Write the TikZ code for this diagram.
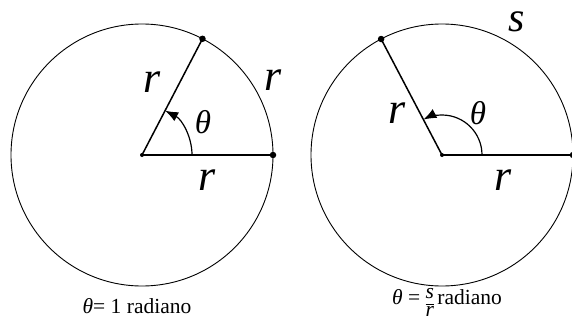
\documentclass[tikz,border=0pt]{standalone}
\usepackage{fontspec}
\setmainfont{Liberation Serif}
\usetikzlibrary{arrows.meta}
\begin{document}
\begin{tikzpicture}[x=1pt,y=1pt]
\tikzstyle{nod}= [circle, inner sep=0pt, fill=black, minimum size=6.5pt]
\tikzstyle{cen}= [circle, inner sep=0pt, fill=black, minimum size=4pt]
\tikzstyle{lab}= [font=\fontsize{44}{44}\selectfont\itshape]
\tikzstyle{ang}= [font=\fontsize{33}{33}\selectfont\itshape]
\tikzstyle{capt}= [font=\fontsize{21.5}{21.5}\selectfont]
\tikzstyle{angarrow}= [-{Latex[length=13pt,width=10pt]}, line width=1.2pt]
\useasboundingbox (0,0) rectangle (572,322);
%1
\def\r{142};
\node[cen] (o1) at (\r,167) {};
\node[nod] (a1) at ([shift={(62.5:131)}]o1.center) {};
\node[nod] (b1) at ([shift={(0:131)}]o1.center) {};
\draw[line width=0.9pt] (o1.center) circle[radius=131pt];
\draw[line width=1.5pt] (o1.center) -- (a1.center);
\draw[line width=1.5pt] (o1.center) -- (b1.center);
\draw[angarrow] ([shift={(0:50)}]o1.center) arc[start angle=0, end angle=62.5, radius=50pt];
\node[lab] (ra1) at (152,240) {r};
\node[lab] (rb1) at (273,242) {r};
\node[ang] (t1) at (203,200) {θ};
\node[lab] (rc1) at (207,142) {r};
\node[capt] (c1) at (137,16) {\textit{θ}= 1 radiano};
%2
\def\r{442};
\node[cen] (o2) at (\r,167) {};
\node[nod] (a2) at ([shift={(117.7:131)}]o2.center) {};
\node[nod] (b2) at ([shift={(0:131)}]o2.center) {};
\draw[line width=0.9pt] (o2.center) circle[radius=131pt];
\draw[line width=1.5pt] (o2.center) -- (a2.center);
\draw[line width=1.5pt] (o2.center) -- (b2.center);
\draw[angarrow] ([shift={(0:40)}]o2.center) arc[start angle=0, end angle=117.7, radius=40pt];
\node[lab, font=\fontsize{42}{42}\selectfont\itshape] (s2) at (517,300) {s};
\node[lab] (ra2) at (397,209) {r};
\node[ang] (t2) at (478,209) {θ};
\node[lab] (rc2) at (503,142) {r};
\node[capt, anchor=base] (c2) at (447,18) {\textit{θ} = \raisebox{-5pt}{\renewcommand\arraystretch{0.85}\begin{tabular}[c]{@{}c@{}}\itshape s\\\hline\itshape r\end{tabular}}\,radiano};
\end{tikzpicture}
\end{document}
